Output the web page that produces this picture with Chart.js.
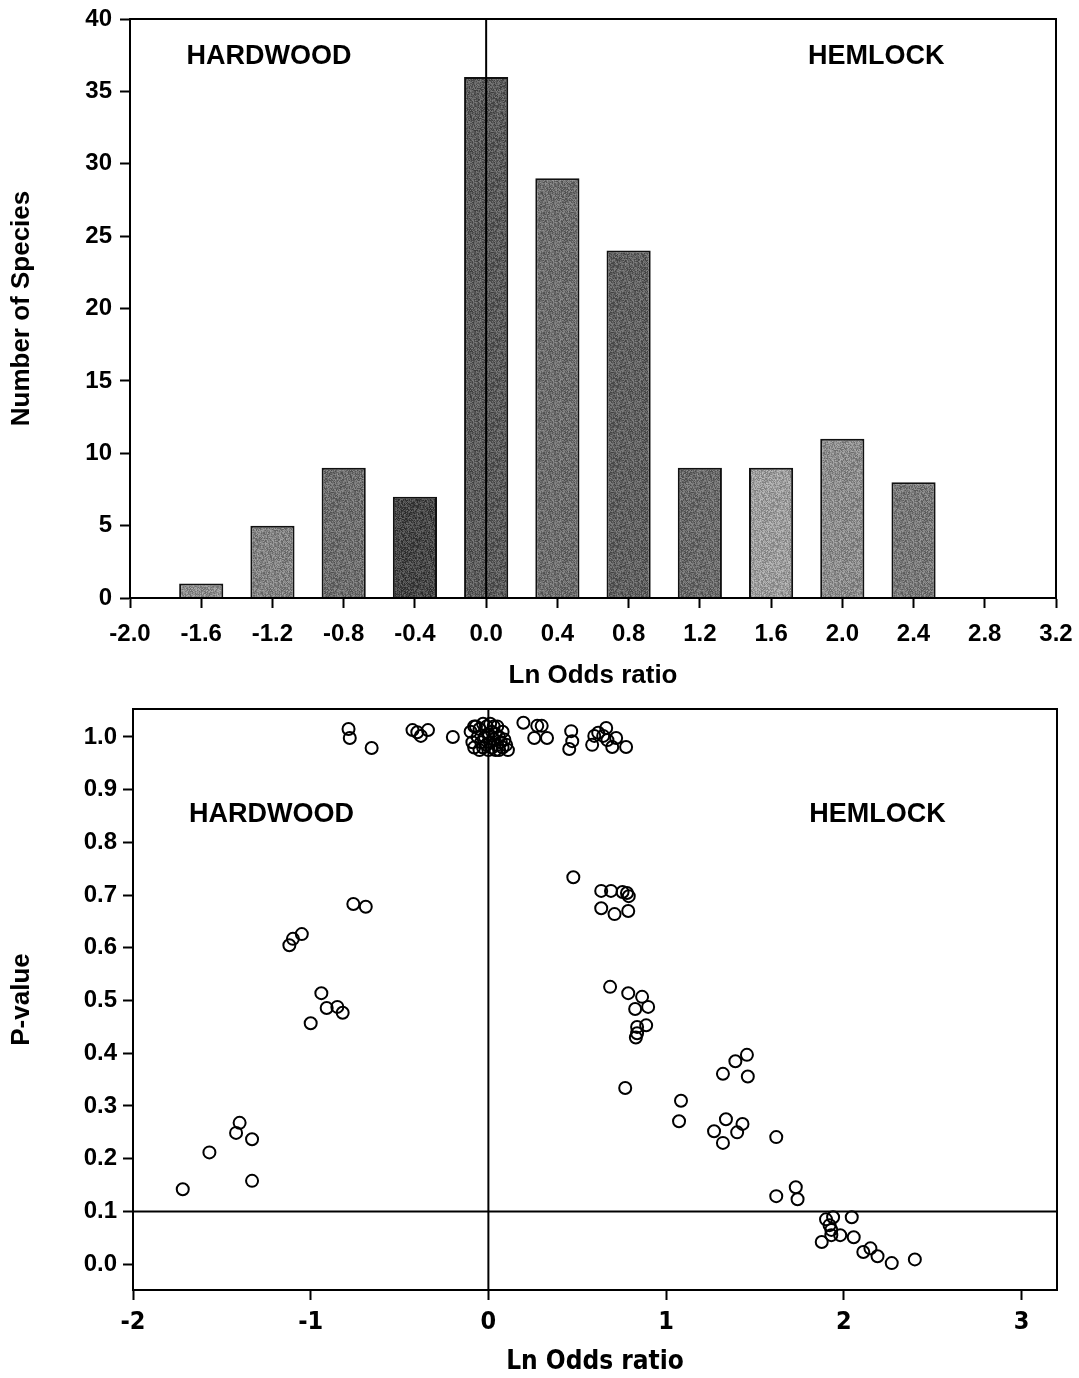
<!DOCTYPE html>
<html>
<head>
<meta charset="utf-8">
<title>Ln odds ratio - hardwood vs hemlock</title>
<script src="https://cdn.jsdelivr.net/npm/chart.js@4.4.1/dist/chart.umd.min.js"></script>
<style>
  html, body { margin: 0; padding: 0; background: #fff; }
  #wrap { position: relative; width: 1079px; height: 1378px; }
  #histo { position: absolute; left: 0; top: 0; }
  #scatter { position: absolute; left: 0; top: 700px; }
</style>
</head>
<body>
<div id="wrap">
  <canvas id="histo" width="1079" height="700"></canvas>
  <canvas id="scatter" width="1079" height="678"></canvas>
</div>
<script>
// ---- top panel: histogram of ln odds ratios ----
var binCenters = [-1.6, -1.2, -0.8, -0.4, 0.0, 0.4, 0.8, 1.2, 1.6, 2.0, 2.4];
var speciesCounts = [1, 5, 9, 7, 36, 29, 24, 9, 9, 11, 8];

// ---- bottom panel: ln odds ratio vs p-value, one point per species ----
var lnOdds = [
  -0.787, -0.78, -0.657, -0.427, -0.40, -0.38, -0.34, -0.20,
  -0.10, -0.09, -0.08, -0.08, -0.07, -0.06, -0.05, -0.05, -0.04, -0.03, -0.03, -0.02,
  -0.01, -0.01, 0.00, 0.00, 0.01, 0.01, 0.02, 0.02, 0.03, 0.03, 0.04, 0.04, 0.05, 0.05,
  0.06, 0.06, 0.07, 0.08, 0.08, 0.09, 0.10, 0.11,
  0.197, 0.258, 0.275, 0.30, 0.33, 0.466, 0.472, 0.455, 0.596, 0.618, 0.663, 0.646,
  0.67, 0.584, 0.719, 0.697, 0.775,
  -0.76, -0.69, -1.05, -1.10, -1.12, -0.94, -0.91, -0.85, -0.82, -1.0,
  -1.40, -1.42, -1.33, -1.57, -1.33, -1.72,
  0.478, 0.635, 0.69, 0.755, 0.78, 0.79, 0.635, 0.71, 0.787,
  0.685, 0.787, 0.865, 0.826, 0.899, 0.888, 0.837, 0.837, 0.83, 0.77,
  1.455, 1.39, 1.32, 1.46, 1.084, 1.073, 1.337, 1.43, 1.27, 1.40, 1.32, 1.62,
  1.62, 1.73, 1.74,
  1.90, 1.94, 1.92, 1.93, 1.93, 1.98, 2.045, 2.056, 1.876, 2.11, 2.15, 2.19, 2.27, 2.40
];
var pValue = [
  1.015, 0.998, 0.979, 1.013, 1.009, 1.002, 1.013, 1.000,
  1.010, 0.990, 0.980, 1.020, 1.020, 1.000, 0.975, 1.015, 0.990, 1.025, 0.980, 1.000,
  1.020, 0.985, 1.005, 0.975, 1.025, 0.990, 1.010, 0.980, 1.020, 0.995, 0.975, 1.005, 1.020, 0.985,
  1.000, 0.975, 0.990, 1.010, 0.980, 0.995, 0.985, 0.975,
  1.027, 0.998, 1.021, 1.021, 0.998, 1.011, 0.992, 0.977, 1.002, 1.008, 1.017, 1.002,
  0.994, 0.985, 0.998, 0.981, 0.981,
  0.683, 0.678, 0.626, 0.617, 0.605, 0.514, 0.486, 0.488, 0.477, 0.457,
  0.268, 0.249, 0.237, 0.212, 0.158, 0.142,
  0.734, 0.708, 0.708, 0.706, 0.704, 0.698, 0.675, 0.664, 0.670,
  0.526, 0.514, 0.507, 0.484, 0.488, 0.453, 0.450, 0.438, 0.430, 0.334,
  0.397, 0.385, 0.361, 0.356, 0.310, 0.271, 0.275, 0.266, 0.252, 0.250, 0.230, 0.241,
  0.129, 0.146, 0.123,
  0.085, 0.089, 0.074, 0.065, 0.055, 0.055, 0.089, 0.051, 0.042, 0.023, 0.030, 0.015, 0.002, 0.009
];

// reference lines
var zeroLnOdds = 0;
var pCutoff = 0.1;

// habitat labels inside the panels
var habitatNames = ['HARDWOOD', 'HEMLOCK'];
var habitatLnOdds = [-1.22, 2.19];

// axis ranges
var lnMin = -2, lnMax = 3.2;
var countMax = 40;
var pMin = -0.049, pMax = 1.053;

var boldFont = 'Arial, "Liberation Sans", Helvetica, sans-serif';
var narrowFont = '"Liberation Sans Narrow", "Arial Narrow", "DejaVu Sans Condensed", Arial, sans-serif';

// grey speckled fill like the scanned bars
var barGreys = [150, 138, 118, 80, 100, 118, 105, 115, 165, 148, 128];
function stipple(base) {
  var c = document.createElement('canvas');
  c.width = 40; c.height = 40;
  var g = c.getContext('2d');
  var img = g.createImageData(40, 40);
  for (var i = 0; i < 1600; i++) {
    var h = Math.imul(i + 17, 2654435761) >>> 0;
    h = Math.imul(h ^ (h >>> 15), 2246822519) >>> 0;
    h = (h ^ (h >>> 13)) >>> 0;
    var n = (h & 255) / 255;
    var v = base + (n - 0.5) * 70;
    if (n > 0.88) v -= 70;
    v = Math.max(0, Math.min(255, Math.round(v)));
    img.data[i * 4] = v; img.data[i * 4 + 1] = v; img.data[i * 4 + 2] = v; img.data[i * 4 + 3] = 255;
  }
  g.putImageData(img, 0, 0);
  return g.createPattern(c, 'repeat');
}

var framePlugin = {
  id: 'frame',
  afterDatasetsDraw: function(chart, args, opts) {
    var a = chart.chartArea, ctx = chart.ctx;
    ctx.save();
    ctx.strokeStyle = '#000';
    ctx.lineWidth = 2;
    ctx.strokeRect(a.left, a.top, a.right - a.left, a.bottom - a.top);
    ctx.fillStyle = '#000';
    ctx.font = 'bold 27px ' + boldFont;
    ctx.textAlign = 'center';
    ctx.textBaseline = 'middle';
    var py = chart.scales.y.getPixelForValue(opts.labelY);
    for (var i = 0; i < habitatNames.length; i++) {
      ctx.fillText(habitatNames[i], chart.scales.x.getPixelForValue(habitatLnOdds[i]), py);
    }
    ctx.restore();
  }
};

function fixBox(w, h) {
  return function(scale) {
    if (w) scale.width = w;
    if (h) scale.height = h;
    scale.paddingTop = 0; scale.paddingBottom = 0;
    scale.paddingLeft = 0; scale.paddingRight = 0;
  };
}

var tickGrid = { drawOnChartArea: false, drawTicks: true, tickLength: 10, tickColor: '#000', tickWidth: 2 };
var axisBorder = { display: true, color: '#000', width: 2 };

// histogram
var barData = binCenters.map(function(x, i) { return { x: x, y: speciesCounts[i] }; });
new Chart(document.getElementById('histo'), {
  type: 'bar',
  data: {
    datasets: [{
      data: barData,
      backgroundColor: barGreys.map(stipple),
      borderColor: '#111',
      borderWidth: 2,
      barPercentage: 0.62,
      categoryPercentage: 1,
      order: 2
    }, {
      type: 'line',
      data: [{ x: zeroLnOdds, y: 0 }, { x: zeroLnOdds, y: countMax }],
      borderColor: '#000',
      borderWidth: 2,
      pointRadius: 0,
      order: 1
    }]
  },
  options: {
    responsive: false,
    animation: false,
    events: [],
    layout: { padding: { top: 19, right: 23, left: 0, bottom: 0 } },
    plugins: { legend: { display: false }, tooltip: { enabled: false }, frame: { labelY: 37.4 } },
    scales: {
      x: {
        type: 'linear', min: lnMin, max: lnMax, offset: false,
        grid: Object.assign({ offset: false }, tickGrid), border: axisBorder,
        afterFit: fixBox(0, 102),
        ticks: {
          stepSize: 0.4, padding: 12, color: '#000', maxRotation: 0, autoSkip: false,
          font: { family: boldFont, size: 24, weight: 'bold' },
          callback: function(v) { return Number(v).toFixed(1); }
        },
        title: {
          display: true, text: 'Ln Odds ratio', color: '#000',
          font: { family: boldFont, size: 26, weight: 'bold' },
          padding: { top: 0, bottom: 9 }
        }
      },
      y: {
        min: 0, max: countMax,
        grid: tickGrid, border: axisBorder,
        afterFit: fixBox(130, 0),
        ticks: {
          stepSize: 5, padding: 8, color: '#000',
          font: { family: boldFont, size: 24, weight: 'bold' }
        },
        title: {
          display: true, text: 'Number of Species', color: '#000',
          font: { family: boldFont, size: 26, weight: 'bold' },
          padding: { top: 6, bottom: 0 }
        }
      }
    }
  },
  plugins: [framePlugin]
});

// p-value scatter
var points = lnOdds.map(function(x, i) { return { x: x, y: pValue[i] }; });
new Chart(document.getElementById('scatter'), {
  type: 'scatter',
  data: {
    datasets: [{
      data: points,
      pointStyle: 'circle',
      pointRadius: 6,
      pointBorderWidth: 2,
      pointBorderColor: '#000',
      pointBackgroundColor: 'rgba(255,255,255,0)',
      clip: false
    }, {
      type: 'line',
      data: [{ x: zeroLnOdds, y: pMin }, { x: zeroLnOdds, y: pMax }],
      borderColor: '#000', borderWidth: 2, pointRadius: 0
    }, {
      type: 'line',
      data: [{ x: lnMin, y: pCutoff }, { x: lnMax, y: pCutoff }],
      borderColor: '#000', borderWidth: 2, pointRadius: 0
    }]
  },
  options: {
    responsive: false,
    animation: false,
    events: [],
    layout: { padding: { top: 9, right: 22, left: 0, bottom: 0 } },
    plugins: { legend: { display: false }, tooltip: { enabled: false }, frame: { labelY: 0.852 } },
    scales: {
      x: {
        type: 'linear', min: lnMin, max: lnMax,
        grid: tickGrid, border: axisBorder,
        afterFit: fixBox(0, 88),
        ticks: {
          stepSize: 1, includeBounds: false, padding: 7, color: '#000',
          font: { family: narrowFont, size: 25, weight: 'bold' }
        },
        title: {
          display: true, text: 'Ln Odds ratio', color: '#000',
          font: { family: narrowFont, size: 26, weight: 'bold' },
          padding: { top: 0, bottom: 0 }
        }
      },
      y: {
        min: pMin, max: pMax,
        grid: tickGrid, border: axisBorder,
        afterFit: fixBox(133, 0),
        ticks: {
          stepSize: 0.1, includeBounds: false, padding: 6, color: '#000',
          font: { family: boldFont, size: 24, weight: 'bold' },
          callback: function(v) { return Number(v).toFixed(1); }
        },
        title: {
          display: true, text: 'P-value', color: '#000',
          font: { family: boldFont, size: 26, weight: 'bold' },
          padding: { top: 6, bottom: 0 }
        }
      }
    }
  },
  plugins: [framePlugin]
});
</script>
</body>
</html>
